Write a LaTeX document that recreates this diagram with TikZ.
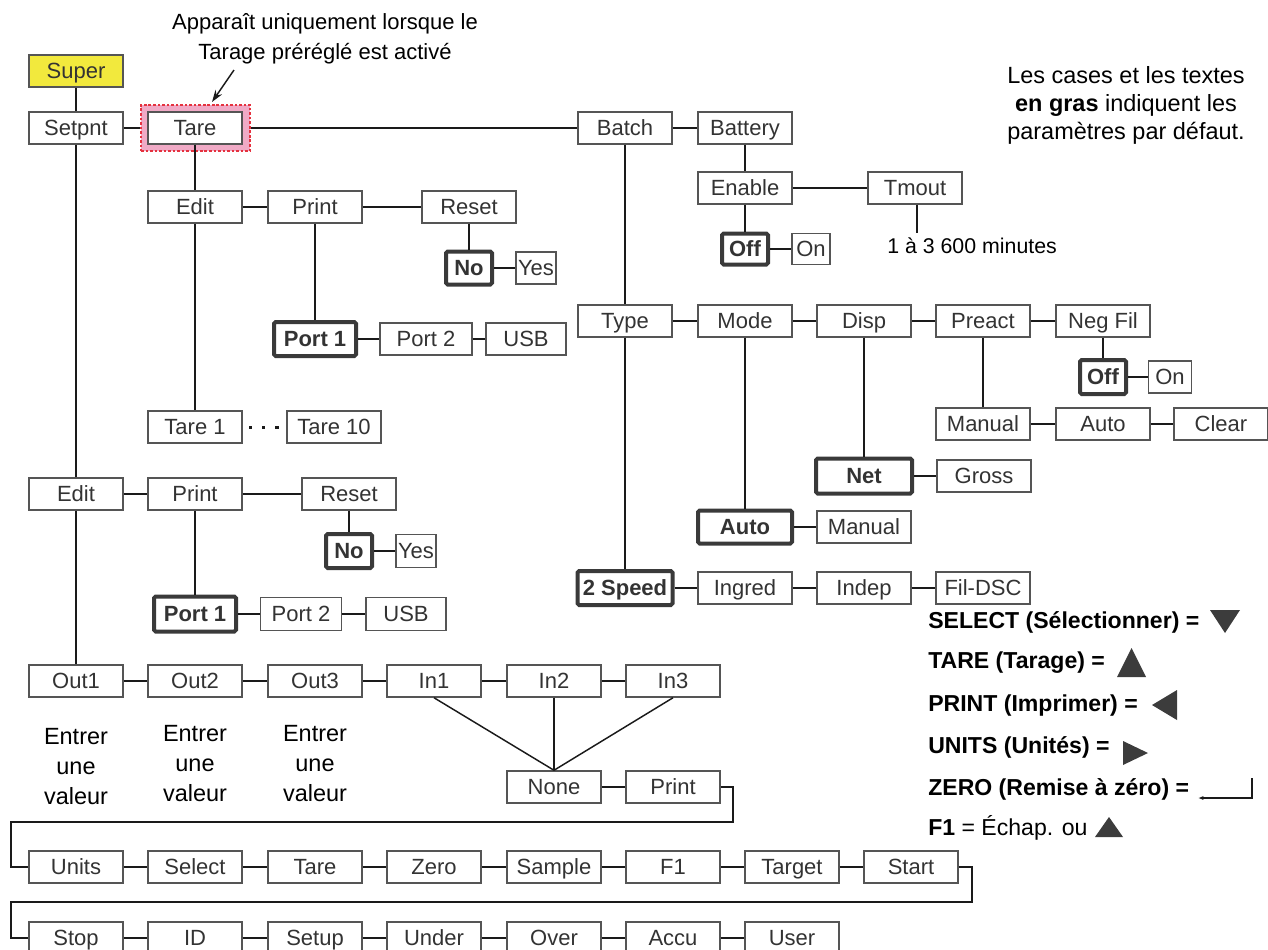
\documentclass[tikz,border=0pt]{standalone}
\usepackage{fontspec}
\setmainfont{Liberation Sans}
\usetikzlibrary{arrows.meta}
\definecolor{bx}{HTML}{555555}
\definecolor{bbx}{HTML}{3A3A3A}
\definecolor{tx}{HTML}{333333}
\definecolor{ln}{HTML}{1A1A1A}
\definecolor{superfill}{HTML}{F2E93D}
\definecolor{hlfill}{HTML}{F0AAC6}
\definecolor{hldraw}{HTML}{E5323F}
\definecolor{tri}{HTML}{3C3C3C}
\begin{document}
\begin{tikzpicture}[x=0.75pt,y=-0.75pt,
  font=\fontsize{16.5}{22.5}\selectfont,
  box/.style={draw=bx, line width=1.1pt, fill=white, text=tx, minimum width=70.5pt, minimum height=24pt, inner sep=0pt, text height=11.8pt, text depth=0pt},
  bw/.style={minimum width=#1*0.75pt},
  bh/.style={minimum height=#1*0.75pt},
  bbox/.style={box, line width=3pt, draw=bbx, font=\fontsize{16.5}{20}\selectfont\bfseries, rounded corners=1.2pt},
  cn/.style={draw=ln, line width=1.1pt},
  lbl/.style={text=black, align=center, inner sep=0pt},
  leg/.style={anchor=base west, inner sep=0pt, text=black, font=\fontsize{17.3}{20}\selectfont\bfseries},
  trif/.style={fill=tri}
]
\useasboundingbox (0,0) rectangle (1268,950);

% highlight around Tare
\node[fill=hlfill, draw=hldraw, line width=2pt, dash pattern=on 2pt off 1.4pt, minimum width=81.75pt, minimum height=34.5pt, inner sep=0pt] (hl) at (195.5,128) {};

% top branch
\node[box, fill=superfill] (super) at (76,71) {Super};
\node[box] (setpnt) at (76,128) {Setpnt};
\node[box] (tare) at (195,128) {Tare};
\node[box] (batch) at (625,128) {Batch};
\node[box] (battery) at (745,128) {Battery};
\node[box] (enable) at (745,188) {Enable};
\node[box] (tmout) at (915,188) {Tmout};
\node[bbox, bw=46, bh=31] (offA) at (745,249) {Off};
\node[box, bw=38, bh=31] (onA) at (811,249) {On};
\node[lbl, anchor=base west, font=\fontsize{16}{20}\selectfont] (tmtext) at (887,253) {1 à 3 600 minutes};
\coordinate (tmend) at (917,233);

\node[box] (editA) at (195,207) {Edit};
\node[box] (printA) at (315,207) {Print};
\node[box] (resetA) at (469,207) {Reset};
\node[bbox, bw=46, bh=33] (noA) at (469,268) {No};
\node[box, bw=40, bh=32] (yesA) at (536,268) {Yes};
\node[bbox, bw=82, bh=34] (port1A) at (315,339) {Port 1};
\node[box, bw=92] (port2A) at (426,339) {Port 2};
\node[box, bw=80] (usbA) at (526,339) {USB};
\node[box] (tare1) at (195,427) {Tare 1};
\node[box] (tare10) at (334,427) {Tare 10};

\node[box] (editB) at (76,494) {Edit};
\node[box] (printB) at (195,494) {Print};
\node[box] (resetB) at (349,494) {Reset};
\node[bbox, bw=46, bh=34] (noB) at (349,551) {No};
\node[box, bw=40, bh=33] (yesB) at (416,551) {Yes};
\node[bbox, bw=82, bh=35] (port1B) at (195,614) {Port 1};
\node[box, bw=81, bh=33] (port2B) at (301,614) {Port 2};
\node[box, bw=80, bh=33] (usbB) at (406,614) {USB};

\node[box] (out1) at (76,681) {Out1};
\node[box] (out2) at (195,681) {Out2};
\node[box] (out3) at (315,681) {Out3};
\node[box] (in1) at (434,681) {In1};
\node[box] (in2) at (554,681) {In2};
\node[box] (in3) at (673,681) {In3};
\node[lbl, font=\fontsize{17.6}{22.5}\selectfont] (val1) at (76,767) {Entrer\\une\\valeur};
\node[lbl, font=\fontsize{17.6}{22.5}\selectfont] (val2) at (195,764) {Entrer\\une\\valeur};
\node[lbl, font=\fontsize{17.6}{22.5}\selectfont] (val3) at (315,764) {Entrer\\une\\valeur};
\node[box] (none) at (554,787) {None};
\node[box] (printC) at (673,787) {Print};

% batch branch
\node[box] (type) at (625,321) {Type};
\node[box] (mode) at (745,321) {Mode};
\node[box] (disp) at (864,321) {Disp};
\node[box] (preact) at (983,321) {Preact};
\node[box] (negfil) at (1103,321) {Neg Fil};
\node[bbox, bw=46, bh=34] (offB) at (1103,377) {Off};
\node[box, bw=43, bh=32] (onB) at (1170,377) {On};
\node[box] (manual) at (983,424) {Manual};
\node[box] (autoP) at (1103,424) {Auto};
\node[box] (clear) at (1221,424) {Clear};
\node[bbox, bw=96, bh=35] (net) at (864,476) {Net};
\node[box] (gross) at (984,476) {Gross};
\node[bbox, bw=94, bh=33] (autoM) at (745,527) {Auto};
\node[box] (manualM) at (864,527) {Manual};
\node[bbox, bw=95, bh=34] (speed2) at (625,588) {2 Speed};
\node[box] (ingred) at (745,588) {Ingred};
\node[box] (indep) at (864,588) {Indep};
\node[box] (fildsc) at (983,588) {Fil-DSC};

% bottom rows
\node[box] (units) at (76,867) {Units};
\node[box] (select) at (195,867) {Select};
\node[box] (tareR) at (315,867) {Tare};
\node[box] (zero) at (434,867) {Zero};
\node[box] (sample) at (554,867) {Sample};
\node[box] (f1) at (673,867) {F1};
\node[box] (target) at (792,867) {Target};
\node[box] (start) at (911,867) {Start};

\node[box] (stop) at (76,938) {Stop};
\node[box] (id) at (195,938) {ID};
\node[box] (setup) at (315,938) {Setup};
\node[box] (under) at (434,938) {Under};
\node[box] (over) at (554,938) {Over};
\node[box] (accu) at (673,938) {Accu};
\node[box] (user) at (792,938) {User};

% connectors
\draw[cn] (super) -- (setpnt);
\draw[cn] (setpnt) -- (hl);
\draw[cn] (hl) -- (batch);
\draw[cn] (batch) -- (battery);
\draw[cn] (batch) -- (type);
\draw[cn] (battery) -- (enable);
\draw[cn] (enable) -- (tmout);
\draw[cn] (enable) -- (offA);
\draw[cn] (offA) -- (onA);
\draw[cn] (tmout.south -| tmend) -- (tmend);

\draw[cn] (tare) -- (editA);
\draw[cn] (editA) -- (tare1);
\draw[cn] (editA) -- (printA);
\draw[cn] (printA) -- (resetA);
\draw[cn] (printA) -- (port1A);
\draw[cn] (resetA) -- (noA);
\draw[cn] (noA) -- (yesA);
\draw[cn] (port1A) -- (port2A);
\draw[cn] (port2A) -- (usbA);
\fill[ln] (248.5,425.5) rectangle ++(3.5,3.5);
\fill[ln] (261.5,425.5) rectangle ++(3.5,3.5);
\fill[ln] (275,425.5) rectangle ++(3.5,3.5);

\draw[cn] (setpnt) -- (editB);
\draw[cn] (editB) -- (out1);
\draw[cn] (editB) -- (printB);
\draw[cn] (printB) -- (resetB);
\draw[cn] (printB) -- (port1B);
\draw[cn] (resetB) -- (noB);
\draw[cn] (noB) -- (yesB);
\draw[cn] (port1B) -- (port2B);
\draw[cn] (port2B) -- (usbB);

\draw[cn] (out1) -- (out2);
\draw[cn] (out2) -- (out3);
\draw[cn] (out3) -- (in1);
\draw[cn] (in1) -- (in2);
\draw[cn] (in2) -- (in3);
\draw[cn] (in1.south) -- (none.north);
\draw[cn] (in2.south) -- (none.north);
\draw[cn] (in3.south) -- (none.north);
\draw[cn] (none) -- (printC);

\coordinate (l1a) at (733,787);
\coordinate (l1b) at (733,822);
\coordinate (l1c) at (11,822);
\coordinate (l1d) at (11,867);
\draw[cn] (printC.east) -- (l1a) -- (l1b) -- (l1c) -- (l1d) -- (units.west);
\draw[cn] (units) -- (select);
\draw[cn] (select) -- (tareR);
\draw[cn] (tareR) -- (zero);
\draw[cn] (zero) -- (sample);
\draw[cn] (sample) -- (f1);
\draw[cn] (f1) -- (target);
\draw[cn] (target) -- (start);
\coordinate (l2a) at (972,867);
\coordinate (l2b) at (972,902);
\coordinate (l2c) at (11,902);
\coordinate (l2d) at (11,938);
\draw[cn] (start.east) -- (l2a) -- (l2b) -- (l2c) -- (l2d) -- (stop.west);
\draw[cn] (stop) -- (id);
\draw[cn] (id) -- (setup);
\draw[cn] (setup) -- (under);
\draw[cn] (under) -- (over);
\draw[cn] (over) -- (accu);
\draw[cn] (accu) -- (user);

\draw[cn] (type) -- (mode);
\draw[cn] (mode) -- (disp);
\draw[cn] (disp) -- (preact);
\draw[cn] (preact) -- (negfil);
\draw[cn] (negfil) -- (offB);
\draw[cn] (offB) -- (onB);
\draw[cn] (preact) -- (manual);
\draw[cn] (manual) -- (autoP);
\draw[cn] (autoP) -- (clear);
\draw[cn] (disp) -- (net);
\draw[cn] (net) -- (gross);
\draw[cn] (mode) -- (autoM);
\draw[cn] (autoM) -- (manualM);
\draw[cn] (type) -- (speed2);
\draw[cn] (speed2) -- (ingred);
\draw[cn] (ingred) -- (indep);
\draw[cn] (indep) -- (fildsc);

% annotation
\node[lbl] (note) at (325,39) {Apparaît uniquement lorsque le\\Tarage préréglé est activé};
\coordinate (arrtip) at (212,102);
\draw[cn, -{Stealth[length=9pt,width=6pt]}] (234,70) -- (arrtip);

\node[lbl, font=\fontsize{17.6}{21}\selectfont] (deflt) at (1126,105) {Les cases et les textes\\\textbf{en gras} indiquent les\\paramètres par défaut.};

% legend
\node[leg] (lsel) at (928,628) {SELECT (Sélectionner) =};
\node[leg] (ltare) at (928,668) {TARE (Tarage) =};
\node[leg] (lprint) at (928,711) {PRINT (Imprimer) =};
\node[leg] (lunits) at (928,753) {UNITS (Unités) =};
\node[leg] (lzero) at (928,795) {ZERO (Remise à zéro) =};
\node[leg] (lf1) at (928,835) {F1 \mdseries= Échap. ou};
\fill[trif] (1210,610) -- (1240,610) -- (1225,633) -- cycle;
\fill[trif] (1117,677) -- (1146,677) -- (1131.5,648) -- cycle;
\fill[trif] (1177,690) -- (1177,720) -- (1152,705) -- cycle;
\fill[trif] (1123,741) -- (1123,765) -- (1148,753) -- cycle;
\draw[draw=ln, line width=1pt, -{Latex[length=4pt,width=3pt]}] (1252,778) -- (1252,798) -- (1198,798);
\fill[trif] (1095,837) -- (1123,837) -- (1109,817) -- cycle;
\end{tikzpicture}
\end{document}
